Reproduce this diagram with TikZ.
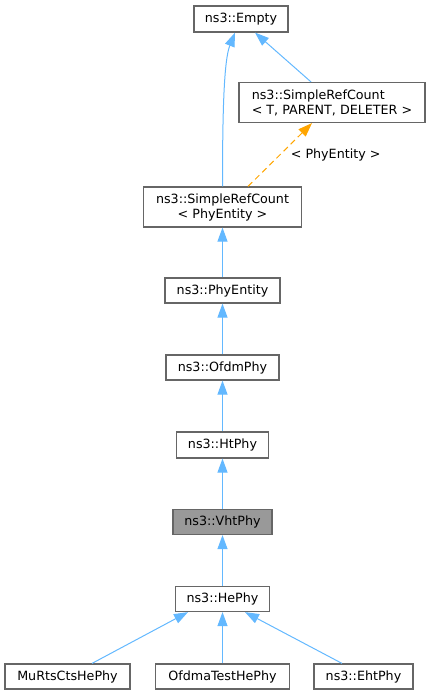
\documentclass[tikz,border=0pt]{standalone}
\usepackage{fontspec}
\setmainfont{DejaVu Sans}
\usetikzlibrary{arrows.meta}
\definecolor{edgeblue}{HTML}{63B8FF}
\definecolor{edgeorange}{HTML}{FFA500}

\begin{document}
\begin{tikzpicture}[x=1pt,y=-1pt,
	lbl/.style={text=black,font=\fontsize{12.7}{15}\selectfont},
	cls/.style={lbl,draw=black!60,line width=1.2pt,fill=white,inner sep=0pt},
	inh/.style={edgeblue,line width=1pt,-{Triangle[width=10pt,length=14pt]}},
	tmpl/.style={edgeorange,line width=1pt,dash pattern=on 6pt off 4pt,-{Triangle[width=10pt,length=14pt]}}]
		\useasboundingbox (0,0) rectangle (429,696);
		\node[cls,minimum width=94pt,minimum height=26pt] (empty) at (241,19) {ns3::Empty};
		\node[cls,minimum width=186pt,minimum height=40pt,align=left] (srct) at (332,102.5) {ns3::SimpleRefCount\\< T, PARENT, DELETER >};
		\node[cls,minimum width=158pt,minimum height=40pt,align=center] (srcp) at (222.5,207) {ns3::SimpleRefCount\\< PhyEntity >};
		\node[cls,minimum width=115pt,minimum height=25pt] (phy) at (222.5,290.5) {ns3::PhyEntity};
		\node[cls,minimum width=113pt,minimum height=25pt] (ofdm) at (222.5,367.5) {ns3::OfdmPhy};
		\node[cls,minimum width=92pt,minimum height=26pt] (ht) at (222.5,445) {ns3::HtPhy};
		\node[cls,minimum width=99pt,minimum height=25pt,fill=black!40] (vht) at (222.5,522) {ns3::VhtPhy};
		\node[cls,minimum width=94pt,minimum height=25pt] (he) at (222.5,599) {ns3::HePhy};
		\node[cls,minimum width=125pt,minimum height=25pt] (murts) at (67.5,676.5) {MuRtsCtsHePhy};
		\node[cls,minimum width=134pt,minimum height=25pt] (ofdma) at (222.5,676.5) {OfdmaTestHePhy};
		\node[cls,minimum width=99pt,minimum height=25pt] (eht) at (363.5,676.5) {ns3::EhtPhy};
		\draw[inh] (srcp.north) .. controls (222.5,110) and (224,60) .. ([xshift=-6pt]empty.south);
		\draw[inh] ([xshift=-21pt]srct.north) -- ([xshift=14pt]empty.south);
		\draw[tmpl] ([xshift=25.5pt]srcp.north) -- node[lbl,pos=0.5,anchor=west,xshift=7pt] (arg) {< PhyEntity >} ([xshift=-20pt]srct.south);
		\foreach \c / \p in {phy/srcp,ofdm/phy,ht/ofdm,vht/ht,he/vht,ofdma/he} { \draw[inh] (\c.north) -- (\p.south);}
		\draw[inh] ([xshift=24.5pt]murts.north) -- ([xshift=-34.5pt]he.south);
		\draw[inh] ([xshift=-21.5pt]eht.north) -- ([xshift=22.5pt]he.south);
	\end{tikzpicture}
\end{document}
